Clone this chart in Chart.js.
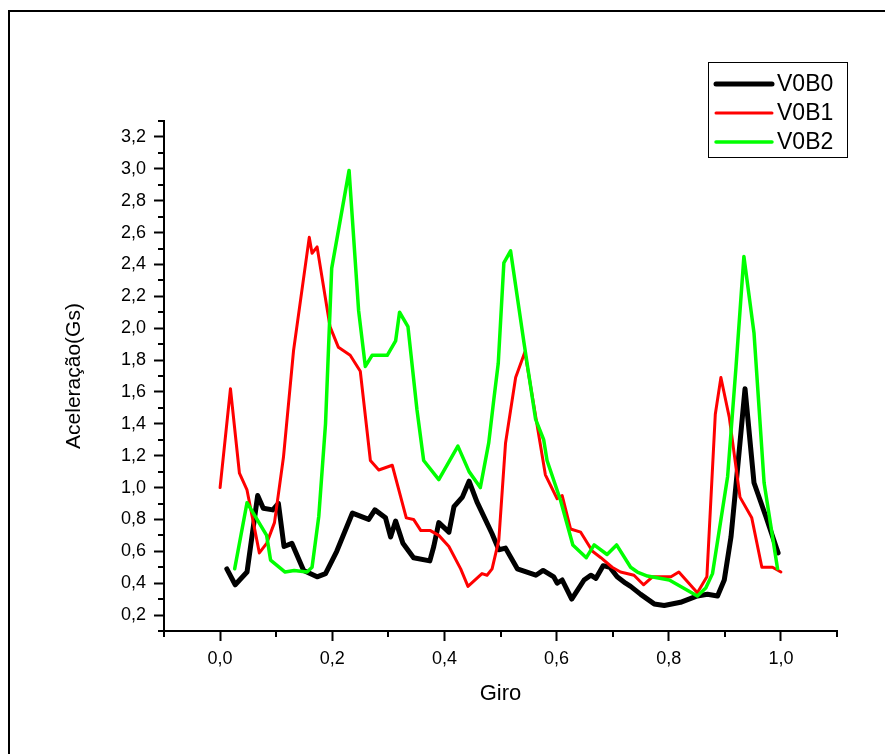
<!DOCTYPE html>
<html lang="pt">
<head>
<meta charset="UTF-8">
<title>V0B0 / V0B1 / V0B2</title>
<script src="https://cdn.jsdelivr.net/npm/chart.js"></script>
<style>
  body { margin: 0; background: #fff; }
  .frame { position: absolute; left: 8px; top: 10px; width: 1000px; height: 1000px; border-left: 2px solid #000; border-top: 2px solid #000; }
  .wrap { position: absolute; left: 0; top: 0; width: 885px; height: 754px; }
</style>
</head>
<body>
<div class="frame"></div>
<div class="wrap"><canvas id="chart" width="885" height="754"></canvas></div>
<script>
  // values
  const v0b0X = [0.012, 0.027, 0.048, 0.067, 0.077, 0.094, 0.104, 0.114, 0.128, 0.149, 0.173, 0.188, 0.208, 0.236, 0.265, 0.276, 0.295, 0.304, 0.313, 0.326, 0.345, 0.374, 0.381, 0.390, 0.408, 0.417, 0.432, 0.444, 0.458, 0.485, 0.497, 0.509, 0.530, 0.563, 0.576, 0.595, 0.601, 0.610, 0.627, 0.649, 0.661, 0.670, 0.683, 0.695, 0.708, 0.723, 0.732, 0.750, 0.774, 0.792, 0.821, 0.851, 0.869, 0.887, 0.899, 0.911, 0.923, 0.936, 0.952, 0.973, 0.995];
  const v0b0Y = [0.49, 0.39, 0.47, 0.95, 0.87, 0.86, 0.90, 0.63, 0.65, 0.48, 0.44, 0.46, 0.60, 0.84, 0.80, 0.86, 0.81, 0.69, 0.79, 0.65, 0.56, 0.54, 0.63, 0.78, 0.72, 0.88, 0.94, 1.04, 0.91, 0.71, 0.61, 0.62, 0.49, 0.45, 0.48, 0.44, 0.40, 0.42, 0.30, 0.42, 0.45, 0.43, 0.51, 0.50, 0.44, 0.40, 0.38, 0.33, 0.27, 0.26, 0.28, 0.32, 0.33, 0.32, 0.42, 0.69, 1.13, 1.62, 1.03, 0.82, 0.59];

  const v0b1X = [0.000, 0.0185, 0.0345, 0.048, 0.070, 0.083, 0.097, 0.113, 0.131, 0.159, 0.164, 0.173, 0.196, 0.211, 0.232, 0.250, 0.268, 0.283, 0.307, 0.332, 0.345, 0.358, 0.375, 0.390, 0.408, 0.429, 0.442, 0.467, 0.476, 0.485, 0.497, 0.509, 0.527, 0.5435, 0.5625, 0.580, 0.601, 0.610, 0.625, 0.643, 0.664, 0.679, 0.699, 0.714, 0.738, 0.755, 0.771, 0.804, 0.818, 0.851, 0.868, 0.883, 0.893, 0.908, 0.927, 0.948, 0.966, 0.985, 1.000];
  const v0b1Y = [1.00, 1.62, 1.09, 0.985, 0.59, 0.65, 0.78, 1.19, 1.86, 2.57, 2.47, 2.51, 2.01, 1.88, 1.83, 1.73, 1.17, 1.11, 1.14, 0.81, 0.80, 0.73, 0.73, 0.70, 0.63, 0.49, 0.38, 0.46, 0.45, 0.49, 0.67, 1.28, 1.69, 1.85, 1.45, 1.08, 0.93, 0.95, 0.74, 0.72, 0.60, 0.56, 0.50, 0.47, 0.45, 0.39, 0.44, 0.44, 0.47, 0.34, 0.44, 1.46, 1.69, 1.44, 0.94, 0.81, 0.50, 0.50, 0.47];

  const v0b2X = [0.026, 0.048, 0.083, 0.090, 0.116, 0.132, 0.155, 0.164, 0.176, 0.188, 0.199, 0.230, 0.247, 0.259, 0.271, 0.298, 0.313, 0.320, 0.335, 0.351, 0.363, 0.390, 0.424, 0.444, 0.464, 0.479, 0.488, 0.496, 0.506, 0.518, 0.542, 0.5625, 0.577, 0.583, 0.607, 0.629, 0.653, 0.667, 0.690, 0.707, 0.732, 0.744, 0.762, 0.801, 0.851, 0.866, 0.878, 0.905, 0.920, 0.934, 0.952, 0.970, 0.994];
  const v0b2Y = [0.49, 0.905, 0.70, 0.545, 0.47, 0.48, 0.47, 0.50, 0.82, 1.40, 2.375, 2.99, 2.11, 1.76, 1.83, 1.83, 1.92, 2.10, 2.01, 1.49, 1.17, 1.05, 1.26, 1.10, 1.00, 1.28, 1.55, 1.78, 2.41, 2.485, 1.905, 1.43, 1.30, 1.17, 0.92, 0.64, 0.56, 0.64, 0.58, 0.64, 0.50, 0.47, 0.445, 0.42, 0.32, 0.37, 0.46, 1.07, 1.76, 2.45, 1.97, 1.03, 0.49];

  const seriesNames = ["V0B0", "V0B1", "V0B2"];
  const seriesColors = ["#000000", "#ff0000", "#00ff00"];
  const seriesWidths = [5, 3, 3.5];

  const xMin = -0.1, xMax = 1.1;
  const yMin = 0.1, yMax = 3.3;

  const FONT = "'Liberation Sans', Arial, sans-serif";

  const toPoints = (xs, ys) => xs.map((x, i) => ({ x, y: ys[i] }));
  const isMajor = v => Math.round(v * 10) % 2 === 0;
  const fmt = v => {
    const r = Math.round(v * 10);
    if (r % 2 !== 0) return "";
    return (r / 10).toFixed(1).replace(".", ",");
  };

  // short minor ticks (odd tenths) drawn through the scales
  const minorTicks = {
    id: "minorTicks",
    afterDraw(chart) {
      const { ctx, chartArea, scales } = chart;
      ctx.save();
      ctx.strokeStyle = "#000";
      ctx.lineWidth = 2;
      scales.x.ticks.forEach(t => {
        if (isMajor(t.value)) return;
        const px = Math.round(scales.x.getPixelForValue(t.value));
        ctx.beginPath();
        ctx.moveTo(px, chartArea.bottom);
        ctx.lineTo(px, chartArea.bottom + 6);
        ctx.stroke();
      });
      scales.y.ticks.forEach(t => {
        if (isMajor(t.value)) return;
        const py = Math.round(scales.y.getPixelForValue(t.value));
        ctx.beginPath();
        ctx.moveTo(chartArea.left - 6, py);
        ctx.lineTo(chartArea.left, py);
        ctx.stroke();
      });
      ctx.restore();
    }
  };

  // boxed legend in the upper right corner
  const boxLegend = {
    id: "boxLegend",
    afterDraw(chart) {
      const { ctx } = chart;
      const bx = 708, by = 62, bw = 139, bh = 95;
      ctx.save();
      ctx.fillStyle = "#fff";
      ctx.fillRect(bx, by, bw, bh);
      ctx.strokeStyle = "#000";
      ctx.lineWidth = 1;
      ctx.strokeRect(bx + 0.5, by + 0.5, bw, bh);
      ctx.font = "23px " + FONT;
      ctx.textBaseline = "middle";
      ctx.textAlign = "left";
      const rows = [84, 113, 142];
      seriesNames.forEach((name, i) => {
        ctx.strokeStyle = seriesColors[i];
        ctx.lineWidth = seriesWidths[i];
        ctx.lineCap = "round";
        ctx.beginPath();
        ctx.moveTo(716, rows[i]);
        ctx.lineTo(772, rows[i]);
        ctx.stroke();
        ctx.fillStyle = "#000";
        ctx.fillText(name, 777, rows[i] + 1);
      });
      ctx.restore();
    }
  };

  const allX = [v0b0X, v0b1X, v0b2X];
  const allY = [v0b0Y, v0b1Y, v0b2Y];

  new Chart(document.getElementById("chart"), {
    type: "line",
    data: {
      datasets: seriesNames.map((name, i) => ({
        label: name,
        data: toPoints(allX[i], allY[i]),
        borderColor: seriesColors[i],
        backgroundColor: seriesColors[i],
        borderWidth: seriesWidths[i],
        borderJoinStyle: "round",
        borderCapStyle: "round",
        pointRadius: 0,
        tension: 0,
        fill: false,
        order: 3 - i
      }))
    },
    options: {
      responsive: false,
      animation: false,
      layout: { padding: { left: 0, top: 121, right: 48, bottom: 0 } },
      plugins: { legend: { display: false }, tooltip: { enabled: false } },
      scales: {
        x: {
          type: "linear",
          min: xMin,
          max: xMax,
          afterFit: s => { s.height = 123; },
          border: { display: true, color: "#000", width: 2 },
          grid: {
            drawOnChartArea: false,
            drawTicks: true,
            tickLength: 10,
            tickWidth: 2,
            tickColor: c => (c.tick && isMajor(c.tick.value) ? "#000" : "rgba(0,0,0,0)")
          },
          ticks: {
            stepSize: 0.1,
            autoSkip: false,
            maxRotation: 0,
            padding: 7,
            color: "#000",
            font: { family: FONT, size: 18 },
            callback: v => fmt(v)
          },
          title: {
            display: true,
            text: "Giro",
            color: "#000",
            font: { family: FONT, size: 22 },
            padding: { top: 0, bottom: 47 }
          }
        },
        y: {
          type: "linear",
          min: yMin,
          max: yMax,
          afterFit: s => { s.width = 164; },
          border: { display: true, color: "#000", width: 2 },
          grid: {
            drawOnChartArea: false,
            drawTicks: true,
            tickLength: 10,
            tickWidth: 2,
            tickColor: c => (c.tick && isMajor(c.tick.value) ? "#000" : "rgba(0,0,0,0)")
          },
          ticks: {
            stepSize: 0.1,
            autoSkip: false,
            padding: 8,
            color: "#000",
            font: { family: FONT, size: 18 },
            callback: v => fmt(v)
          },
          title: {
            display: true,
            text: "Aceleração(Gs)",
            color: "#000",
            font: { family: FONT, size: 21 },
            padding: { top: 62, bottom: 0 }
          }
        }
      }
    },
    plugins: [minorTicks, boxLegend]
  });
</script>
</body>
</html>
